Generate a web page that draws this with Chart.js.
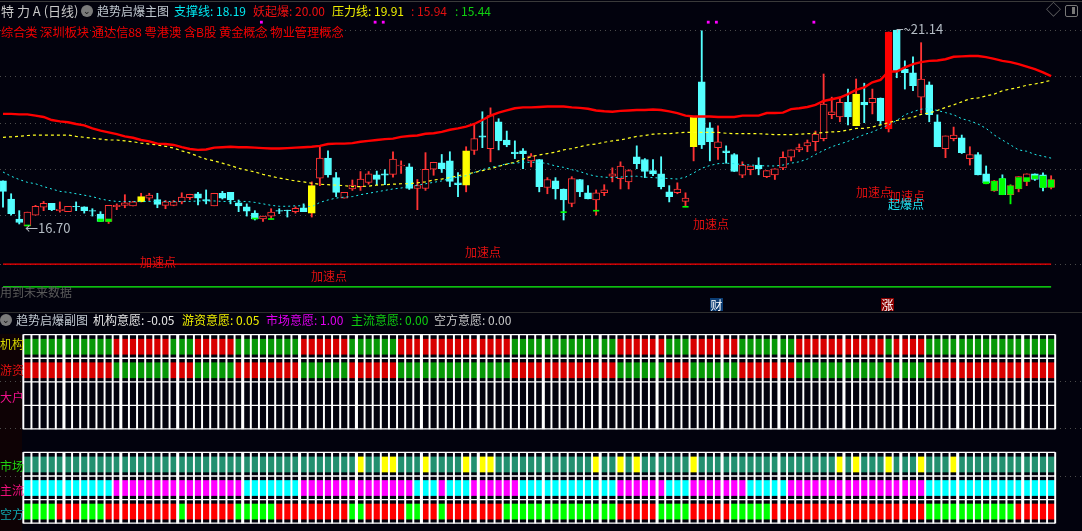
<!DOCTYPE html>
<html>
<head>
<meta charset="utf-8">
<script src="https://cdn.jsdelivr.net/npm/chart.js@4/dist/chart.umd.min.js"></script>
<style>
html,body{margin:0;padding:0;background:#02020d;overflow:hidden}
#wrap{position:relative;width:1082px;height:531px;overflow:hidden;font-family:"Noto Sans CJK SC","Liberation Sans",sans-serif;font-size:12px;line-height:16px}
#strip{position:absolute;left:0;top:334px;width:22px;height:197px;background:#0e0205}
#topline{position:absolute;left:0;top:1px;width:1082px;height:1px;background:#3a3a3a}
#midline{position:absolute;left:0;top:312px;width:1082px;height:1px;background:#2e2e2e}
canvas{position:absolute;left:0;top:0}
.t{position:absolute;white-space:pre}
.dot{position:absolute;width:12px;height:12px;border-radius:50%;background:#7a7a7a;color:#111;font-size:9px;line-height:12px;text-align:center}
.tag{position:absolute;width:13px;height:13px;color:#fff;font-size:12px;line-height:13px;text-align:center}
</style>
</head>
<body>
<div id="wrap">
<div id="strip"></div>
<div id="topline"></div>
<div id="midline"></div>
<canvas id="c" width="1082" height="531"></canvas>

<span class="t" style="left:1px;top:3px;color:#c8c8c8;font-size:13px">特 力 A (日线)</span>
<span class="dot" style="left:81px;top:5px">&#8964;</span>
<span class="t" style="left:97px;top:3px;color:#c0c8d0">趋势启爆主图</span>
<span class="t" style="left:174px;top:3px;color:#00e8f0">支撑线: 18.19</span>
<span class="t" style="left:253px;top:3px;color:#f01010">妖起爆: 20.00</span>
<span class="t" style="left:332px;top:3px;color:#f0f000">压力线: 19.91</span>
<span class="t" style="left:411px;top:3px;color:#e01010">: 15.94</span>
<span class="t" style="left:455px;top:3px;color:#10d010">: 15.44</span>
<span class="t" style="left:1px;top:24px;color:#f00000;font-size:12.2px">综合类 深圳板块 通达信88 粤港澳 含B股 黄金概念 物业管理概念</span>

<span class="t" style="left:25px;top:220px;color:#b4bcc4;font-size:13px">←16.70</span>
<span class="t" style="left:896px;top:21px;color:#b4bcc4;font-size:13px">⌐~21.14</span>

<span class="t" style="left:140px;top:254px;color:#e01010">加速点</span>
<span class="t" style="left:311px;top:268px;color:#e01010">加速点</span>
<span class="t" style="left:465px;top:244px;color:#e01010">加速点</span>
<span class="t" style="left:693px;top:216px;color:#e01010">加速点</span>
<span class="t" style="left:856px;top:184px;color:#e01010">加速点</span>
<span class="t" style="left:889px;top:188px;color:#e01010">加速点</span>
<span class="t" style="left:888px;top:196px;color:#20e0f0">起爆点</span>
<span class="t" style="left:0;top:284px;color:#5a5a5a">用到未来数据</span>

<span class="tag" style="left:710px;top:298px;background:#0b3c72">财</span>
<span class="tag" style="left:881px;top:298px;background:#8a0000">涨</span>

<span class="t" style="left:1046px;top:1px;color:#6a6a6a;font-size:15px">◇</span>
<span class="t" style="left:1065px;top:5px;width:11px;height:10px;border:1px solid #777;border-radius:2px"></span>
<span class="t" style="left:1072px;top:7px;width:3px;height:7px;background:#777"></span>

<span class="dot" style="left:0;top:314px">&#8964;</span>
<span class="t" style="left:16px;top:312px;color:#c0c8d0">趋势启爆副图</span>
<span class="t" style="left:93px;top:312px;color:#e8e8e8">机构意愿: -0.05</span>
<span class="t" style="left:182px;top:312px;color:#f0f000">游资意愿: 0.05</span>
<span class="t" style="left:266px;top:312px;color:#e000f0">市场意愿: 1.00</span>
<span class="t" style="left:351px;top:312px;color:#10d010">主流意愿: 0.00</span>
<span class="t" style="left:434px;top:312px;color:#c8c8c8">空方意愿: 0.00</span>

<span class="t" style="left:0;top:336px;color:#d8d800">机构</span>
<span class="t" style="left:0;top:362px;color:#e01010">游资</span>
<span class="t" style="left:0;top:389px;color:#f0108c">大户</span>
<span class="t" style="left:0;top:458px;color:#20d010">市场</span>
<span class="t" style="left:0;top:482px;color:#f0107c">主流</span>
<span class="t" style="left:0;top:506px;color:#10a8b0">空方</span>
</div>
<script>
// daily candles
const opens = [17.63,17.25,16.84,16.70,16.92,17.08,17.16,17.01,16.99,17.10,
  17.09,17.01,16.94,16.79,17.09,17.12,17.11,17.19,17.27,17.24,
  17.12,17.12,17.19,17.28,17.36,17.24,17.11,17.37,17.39,17.17,
  17.09,16.96,16.84,16.90,17.01,17.02,16.99,17.07,16.96,17.69,
  18.12,17.70,17.27,17.46,17.51,17.60,17.76,17.78,17.77,17.95,
  17.93,17.47,17.47,17.88,18.02,18.06,17.59,17.54,18.29,18.61,
  18.33,18.93,18.52,18.25,18.28,18.06,18.09,17.49,17.63,17.46,
  17.16,17.66,17.38,17.23,17.38,17.73,17.68,17.61,18.15,18.09,
  17.85,17.78,17.40,17.38,17.20,18.37,19.86,18.79,18.35,18.28,
  18.20,17.75,17.87,17.97,17.72,17.76,17.91,18.14,18.30,18.39,
  18.48,18.55,19.09,19.04,19.38,18.84,19.38,19.37,19.48,18.77,
  21.14,20.17,20.08,19.50,19.79,18.93,18.33,18.55,18.57,18.11,
  18.20,17.78,17.42,17.68,17.34,17.46,17.62,17.78,17.76,17.49];
const closes = [17.41,16.95,16.77,16.98,17.10,17.16,17.03,17.04,17.10,17.09,
  17.01,17.00,16.79,17.12,17.12,17.17,17.19,17.30,17.33,17.14,
  17.19,17.19,17.29,17.35,17.27,17.21,17.37,17.27,17.23,17.11,
  17.00,16.84,16.90,16.98,17.00,17.01,17.06,16.99,17.53,18.12,
  17.76,17.39,17.39,17.54,17.67,17.78,17.66,17.75,18.10,17.97,
  17.47,17.53,17.88,18.03,17.89,17.62,17.55,18.28,18.55,18.58,
  19.07,18.50,18.41,18.22,18.22,18.17,17.51,17.66,17.46,17.23,
  17.68,17.40,17.25,17.38,17.44,17.78,17.95,17.85,18.00,17.83,
  17.78,17.51,17.30,17.46,17.27,19.04,18.41,18.48,18.48,18.24,
  17.83,17.97,17.95,17.89,17.85,17.89,18.14,18.30,18.35,18.46,
  18.65,19.34,19.16,19.38,19.04,19.57,19.32,19.47,18.95,21.09,
  20.13,20.08,19.77,19.93,19.09,18.37,18.61,18.63,18.24,18.20,
  17.76,17.59,17.63,17.34,17.53,17.72,17.78,17.66,17.49,17.66];
const highs = [17.63,17.36,17.01,16.98,17.12,17.20,17.16,17.19,17.10,17.19,
  17.09,17.05,16.99,17.12,17.15,17.34,17.20,17.37,17.37,17.37,
  17.22,17.22,17.38,17.35,17.39,17.44,17.37,17.41,17.39,17.23,
  17.15,17.01,16.90,17.05,17.05,17.02,17.09,17.15,17.61,18.37,
  18.28,17.81,17.39,17.65,17.83,17.83,17.84,17.87,18.26,18.06,
  18.00,17.66,18.24,18.03,18.20,18.26,17.81,18.37,18.88,19.16,
  19.25,19.00,18.72,18.50,18.33,18.22,18.09,17.70,17.70,17.46,
  17.72,17.66,17.53,17.44,17.55,17.91,18.04,17.87,18.39,18.11,
  18.09,18.15,17.53,17.59,17.38,19.04,21.12,18.91,18.84,18.39,
  18.22,18.04,17.95,18.13,17.85,17.89,18.26,18.30,18.43,18.52,
  18.72,20.05,19.50,19.50,19.69,19.93,19.83,19.69,19.48,21.09,
  21.14,20.37,20.47,20.82,19.86,19.09,18.61,18.81,18.63,18.37,
  18.24,17.95,17.64,17.76,17.55,17.72,17.78,17.78,17.80,17.74];
const lows = [17.08,16.92,16.74,16.70,16.92,17.01,17.01,16.98,16.99,17.01,
  16.96,16.90,16.79,16.75,17.03,17.07,17.11,17.19,17.22,17.07,
  17.05,17.11,17.15,17.24,17.13,17.15,17.11,17.25,17.15,16.99,
  16.90,16.82,16.79,16.84,16.95,16.88,16.96,16.99,16.88,17.53,
  17.71,17.30,17.27,17.43,17.43,17.56,17.55,17.55,17.71,17.79,
  17.45,17.03,17.43,17.75,17.81,17.51,17.30,17.40,18.20,18.35,
  18.04,18.30,18.37,18.11,17.89,17.93,17.40,17.36,17.25,16.82,
  17.09,17.30,17.25,16.92,17.32,17.61,17.46,17.46,17.89,17.70,
  17.74,17.46,17.19,17.36,17.09,18.06,18.33,18.06,18.09,18.01,
  17.83,17.70,17.76,17.76,17.70,17.66,17.87,18.06,18.26,18.26,
  18.28,18.50,19.00,18.93,18.86,18.84,18.91,19.11,18.86,18.70,
  19.96,19.69,19.65,19.13,18.93,18.37,18.13,18.50,18.22,17.97,
  17.76,17.57,17.41,17.34,17.15,17.40,17.53,17.64,17.42,17.46];

// candles that are painted differently
const yellowBars = [17,38,57,85,105];
const solidRedBars = [109];
const greenWickBars = [124];
const greenBars = [3,12,13,31,33,69,73,84,121,122,123,124,125,126,127,128,129];
const greenTops = [16.72,16.84,16.84,16.86,16.85,16.99,17.02,17.10,17.61,17.62,17.68,17.52,17.70,17.70,17.74,17.73,17.65];
const greenBottoms = [16.70,16.79,16.79,16.84,16.83,16.97,17.00,17.08,17.57,17.43,17.34,17.35,17.47,17.62,17.68,17.49,17.50];
const topMarks = [32,46,47,87,88,100];
const topMarkPrice = 21.34;

// 妖起爆
const redLine = [19.11,19.11,19.10,19.10,19.07,19.04,18.97,18.94,18.92,18.88,
  18.85,18.78,18.73,18.69,18.65,18.60,18.57,18.52,18.49,18.44,
  18.43,18.41,18.36,18.32,18.30,18.31,18.35,18.36,18.37,18.36,
  18.36,18.35,18.34,18.33,18.33,18.34,18.35,18.36,18.37,18.39,
  18.43,18.44,18.44,18.45,18.48,18.50,18.52,18.54,18.55,18.59,
  18.61,18.62,18.66,18.67,18.70,18.75,18.78,18.82,18.88,18.97,
  19.07,19.14,19.19,19.24,19.26,19.26,19.27,19.28,19.28,19.28,
  19.26,19.25,19.23,19.19,19.17,19.16,19.18,19.19,19.20,19.20,
  19.21,19.20,19.17,19.13,19.07,19.05,19.05,19.05,19.04,19.04,
  19.04,19.07,19.07,19.07,19.13,19.13,19.14,19.22,19.24,19.27,
  19.32,19.41,19.45,19.49,19.57,19.67,19.73,19.85,19.91,20.11,
  20.11,20.21,20.29,20.34,20.37,20.38,20.41,20.47,20.48,20.49,
  20.49,20.46,20.42,20.37,20.34,20.29,20.23,20.17,20.09,20.00];
// 压力线
const yellowLine = [18.58,18.59,18.60,18.62,18.63,18.63,18.63,18.63,18.63,18.60,
  18.58,18.56,18.54,18.52,18.52,18.50,18.48,18.45,18.43,18.41,
  18.38,18.34,18.28,18.23,18.16,18.10,18.06,18.01,17.96,17.90,
  17.86,17.82,17.77,17.73,17.69,17.66,17.63,17.61,17.58,17.56,
  17.55,17.54,17.53,17.51,17.51,17.52,17.54,17.55,17.56,17.57,
  17.57,17.59,17.61,17.65,17.67,17.70,17.74,17.77,17.81,17.85,
  17.89,17.94,17.99,18.03,18.10,18.15,18.19,18.22,18.25,18.30,
  18.33,18.37,18.41,18.43,18.47,18.50,18.52,18.56,18.60,18.62,
  18.65,18.66,18.66,18.68,18.69,18.69,18.69,18.69,18.69,18.67,
  18.66,18.66,18.66,18.66,18.65,18.64,18.64,18.64,18.65,18.66,
  18.67,18.69,18.70,18.71,18.74,18.78,18.78,18.81,18.86,18.91,
  18.96,19.00,19.03,19.10,19.13,19.19,19.26,19.32,19.39,19.46,
  19.48,19.53,19.57,19.65,19.69,19.73,19.78,19.81,19.85,19.90];
// 支撑线
const cyanLine = [17.82,17.73,17.66,17.60,17.57,17.51,17.46,17.41,17.39,17.36,
  17.33,17.30,17.25,17.22,17.20,17.20,17.20,17.20,17.20,17.20,
  17.20,17.20,17.20,17.20,17.21,17.21,17.21,17.20,17.20,17.20,
  17.20,17.18,17.15,17.12,17.10,17.10,17.11,17.11,17.09,17.18,
  17.23,17.27,17.29,17.30,17.34,17.37,17.40,17.43,17.46,17.48,
  17.51,17.54,17.57,17.60,17.63,17.68,17.71,17.74,17.81,17.87,
  17.92,17.95,18.00,18.01,18.03,18.03,18.03,18.00,17.95,17.92,
  17.87,17.83,17.77,17.73,17.71,17.70,17.71,17.73,17.73,17.71,
  17.70,17.69,17.68,17.67,17.71,17.80,17.90,17.96,18.00,18.01,
  18.00,17.98,17.97,17.96,17.95,17.95,17.97,18.01,18.04,18.10,
  18.20,18.29,18.37,18.43,18.49,18.57,18.64,18.70,18.78,18.86,
  18.96,19.09,19.16,19.22,19.23,19.19,19.14,19.09,19.00,18.95,
  18.88,18.78,18.63,18.52,18.41,18.30,18.27,18.20,18.16,18.12];

// reference levels and dotted grid of the price panel
const redLevel = 15.95;
const greenLevel = 15.52;
const gridPrices = [21.12,19.98,18.90,17.88,16.92,15.95];

// signal rows below, run lengths that swap colour each run
const firstCell = 3;
const jigouRuns = [11,7,3,5,8,6,6,14,13,6,3,6,7,11,1,4,16];   // starts green
const youziRuns = [11,7,3,5,8,6,6,14,13,6,3,6,7,11,1,4,16];   // starts red
const zhuliuRuns = [11,16,7,14,3,1,3,6,12,6,3,7,5,17,16];     // starts cyan
const kongfangRuns = [4,3,3,9,1,6,5,9,2,5,2,2,1,7,14,5,4,5,5,19,11,5]; // starts green
const shichangYellow = [41,44,45,49,54,56,57,70,73,75,82,100,102,106,110,114];
const monthBreaks = [5,12,19,27,34,41,49,56,64,71,78,86,93,101,108,115,123];
const cellCount = 127;

const RED = '#ff3434', CYAN = '#54ffff', BG = '#02020d';

function expand(runs, a, b) {
  const out = [];
  runs.forEach((n, r) => { for (let j = 0; j < n; j++) out.push(r % 2 ? b : a); });
  return out;
}

function rowBars(row, colors, order) {
  return {
    type: 'bar', xAxisID: 'x', yAxisID: 'yRows', grouped: false, order: order,
    barThickness: 8.3, borderWidth: 0,
    data: colors.map((c, k) => ({ x: k + firstCell, y: [row + 0.19, row + 0.83] })),
    backgroundColor: colors
  };
}

const bodyColor = i => {
  if (yellowBars.includes(i)) return '#ffff00';
  if (solidRedBars.includes(i)) return '#ff0000';
  return closes[i] >= opens[i] ? BG : CYAN;
};
const edgeColor = i => {
  if (yellowBars.includes(i)) return '#ffff00';
  if (solidRedBars.includes(i)) return '#ff0000';
  return closes[i] >= opens[i] ? RED : CYAN;
};
const wickColor = i => {
  if (greenWickBars.includes(i)) return '#00ff00';
  return closes[i] >= opens[i] ? RED : CYAN;
};

const idx = opens.map((v, i) => i);
const boundaries = [];
for (let k = 0; k <= cellCount; k++) boundaries.push(k);
const thinLines = boundaries.filter(k => !monthBreaks.includes(k));

function vLines(list, from, to, width) {
  return {
    type: 'bar', yAxisID: 'yRows', grouped: false, order: 1, barThickness: width, borderWidth: 0,
    backgroundColor: '#ffffff',
    data: list.map(k => ({ x: k + firstCell - 0.5, y: [from, to] }))
  };
}
function priceLine(values, color, width, dash, order) {
  return {
    type: 'line', yAxisID: 'y', order: order, borderColor: color, borderWidth: width, borderDash: dash,
    pointRadius: 0, tension: 0, fill: false,
    data: values.map((v, i) => ({ x: i, y: v }))
  };
}
function levelLine(v, color) {
  return {
    type: 'line', yAxisID: 'y', order: 2, borderColor: color, borderWidth: 1.2, pointRadius: 0,
    data: [{ x: 0, y: v }, { x: 129, y: v }]
  };
}
function hLine(row) {
  return {
    type: 'line', yAxisID: 'yRows', order: 1, borderColor: '#ffffff', borderWidth: 1.3, pointRadius: 0,
    data: [{ x: firstCell - 0.5, y: row }, { x: firstCell + cellCount - 0.5, y: row }]
  };
}

const datasets = [
  // candles
  { type: 'bar', yAxisID: 'y', grouped: false, order: 8, barThickness: 1.2, borderWidth: 0,
    data: idx.map(i => ({ x: i, y: [lows[i], highs[i]] })), backgroundColor: idx.map(wickColor) },
  { type: 'bar', yAxisID: 'y', grouped: false, order: 7, barThickness: 7, borderWidth: 1, borderSkipped: false,
    data: idx.map(i => ({ x: i, y: [opens[i], closes[i]] })),
    backgroundColor: idx.map(bodyColor), borderColor: idx.map(edgeColor) },
  { type: 'bar', yAxisID: 'y', grouped: false, order: 6, barThickness: 5.5, borderWidth: 0,
    data: greenBars.map((b, n) => ({ x: b, y: [greenBottoms[n], greenTops[n]] })), backgroundColor: '#00ff00' },
  { type: 'scatter', yAxisID: 'y', order: 5, pointStyle: 'rect', pointRadius: 2, backgroundColor: '#ff00ff', borderWidth: 0,
    data: topMarks.map(b => ({ x: b - 0.2, y: topMarkPrice })) },
  // moving lines
  priceLine(cyanLine, '#20f0f0', 1, [2, 3], 4),
  priceLine(yellowLine, '#ffff20', 1.2, [3, 3], 4),
  priceLine(redLine, '#ff0000', 2.4, [], 3),
  levelLine(redLevel, '#ff0000'),
  levelLine(greenLevel, '#10ff10'),
  // signal rows
  rowBars(0, expand(jigouRuns, '#079807', '#d80000'), 9),
  rowBars(1, expand(youziRuns, '#d80000', '#079807'), 9),
  rowBars(5, boundaries.slice(0, cellCount).map(k => shichangYellow.includes(k) ? '#ffff00' : '#239070'), 9),
  rowBars(6, expand(zhuliuRuns, '#00ffff', '#ff00ff'), 9),
  rowBars(7, expand(kongfangRuns, '#00ff00', '#ff0000'), 9),
  vLines(thinLines, 0, 4, 1.3),
  vLines(monthBreaks, 0, 4, 2.4),
  vLines(thinLines, 5, 8, 1.3),
  vLines(monthBreaks, 5, 8, 2.4),
  hLine(0), hLine(1), hLine(2), hLine(3), hLine(4),
  hLine(5), hLine(6), hLine(7), hLine(8)
];

new Chart(document.getElementById('c'), {
  data: { datasets: datasets },
  options: {
    responsive: false,
    animation: false,
    layout: { padding: 0, autoPadding: false },
    plugins: { legend: { display: false }, tooltip: { enabled: false } },
    scales: {
      x: { type: 'linear', display: false, offset: false, min: -0.369, max: 132.8 },
      y: {
        type: 'logarithmic', position: 'left', min: 11.57, max: 21.917,
        afterBuildTicks: s => { s.ticks = gridPrices.map(v => ({ value: v })); },
        ticks: { display: false, callback: () => '' },
        grid: { color: '#4a4a4a', lineWidth: 1, drawTicks: false },
        border: { display: false, dash: [1, 4] }
      },
      yRows: {
        type: 'linear', position: 'right', reverse: true, min: -14.212, max: 8.335,
        afterBuildTicks: s => { s.ticks = [2, 4, 6].map(v => ({ value: v })); },
        ticks: { display: false, callback: () => '' },
        grid: { color: '#4a4a4a', lineWidth: 1, drawTicks: false },
        border: { display: false, dash: [1, 4] }
      }
    }
  }
});
</script>
</body>
</html>
